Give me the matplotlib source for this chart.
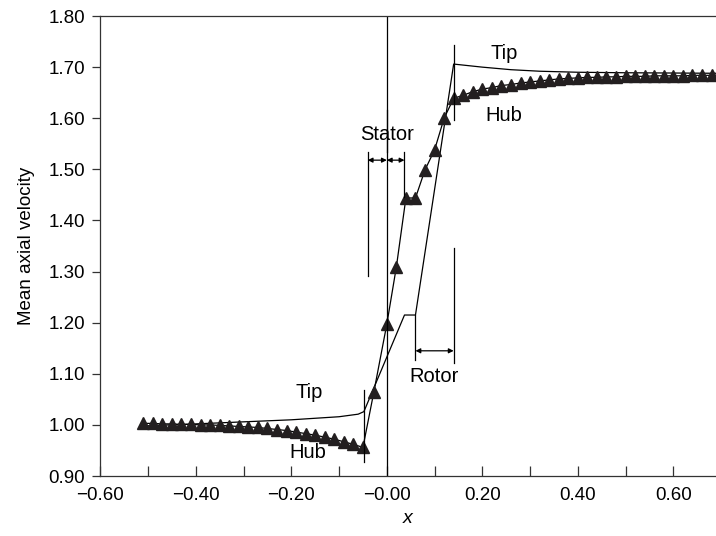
import matplotlib.pyplot as plt
from matplotlib.ticker import MultipleLocator, FuncFormatter

plt.rcParams['font.family'] = ['Liberation Sans', 'DejaVu Sans']

# hub (triangles)
hub_x = [-0.51, -0.49, -0.47, -0.45, -0.43, -0.41, -0.39, -0.37, -0.35, -0.33,
         -0.31, -0.29, -0.27, -0.25, -0.23, -0.21, -0.19, -0.17, -0.15, -0.13,
         -0.11, -0.09, -0.07, -0.05,
         -0.027, 0.0, 0.02, 0.04, 0.06, 0.08, 0.10, 0.12,
         0.14, 0.16, 0.18, 0.20, 0.22, 0.24, 0.26, 0.28, 0.30, 0.32, 0.34,
         0.36, 0.38, 0.40, 0.42, 0.44, 0.46, 0.48, 0.50, 0.52, 0.54, 0.56,
         0.58, 0.60, 0.62, 0.64, 0.66, 0.68]
hub_y = [1.003, 1.003, 1.002, 1.002, 1.001, 1.001, 1.000, 1.000, 0.999, 0.998,
         0.997, 0.996, 0.995, 0.993, 0.991, 0.989, 0.986, 0.983, 0.980, 0.976,
         0.972, 0.967, 0.962, 0.956,
         1.065, 1.197, 1.309, 1.444, 1.444, 1.499, 1.538, 1.600,
         1.639, 1.645, 1.652, 1.657, 1.660, 1.664, 1.666, 1.669, 1.671, 1.673,
         1.675, 1.677, 1.678, 1.679, 1.680, 1.680, 1.681, 1.681, 1.682, 1.682,
         1.682, 1.683, 1.683, 1.683, 1.683, 1.684, 1.684, 1.684]

# tip (plain line)
tip_x = [-0.51, -0.40, -0.30, -0.20, -0.10, -0.06, -0.048, 0.037, 0.06, 0.14,
         0.20, 0.26, 0.32, 0.40, 0.50, 0.69]
tip_y = [0.998, 1.002, 1.006, 1.010, 1.016, 1.021, 1.026, 1.215, 1.215, 1.706,
         1.700, 1.695, 1.692, 1.690, 1.689, 1.688]

fig = plt.figure(figsize=(7.16, 5.36), dpi=100)
ax = fig.add_axes([0.1401, 0.1119, 0.8599, 0.8582])

ax.plot(tip_x, tip_y, color='black', lw=0.9)
ax.plot(hub_x, hub_y, color='black', lw=0.9, marker='^', ms=9,
        markerfacecolor='#231f20', markeredgecolor='#231f20')

# blade edge markers
lc = dict(color='black', lw=0.9)
ax.plot([0.0, 0.0], [0.90, 1.616], **lc)
ax.plot([0.0, 0.0], [1.534, 1.80], **lc)
ax.plot([-0.04, -0.04], [1.291, 1.534], **lc)
ax.plot([0.037, 0.037], [1.446, 1.534], **lc)
ax.plot([-0.048, -0.048], [0.928, 1.069], **lc)
ax.plot([0.14, 0.14], [1.596, 1.743], **lc)
ax.plot([0.06, 0.06], [1.127, 1.215], **lc)
ax.plot([0.14, 0.14], [1.122, 1.347], **lc)

ap = dict(arrowstyle='<|-|>', mutation_scale=7, lw=0.9, color='black',
          shrinkA=0, shrinkB=0)
ax.annotate('', xy=(-0.04, 1.518), xytext=(0.0, 1.518), arrowprops=ap)
ax.annotate('', xy=(0.0, 1.518), xytext=(0.037, 1.518), arrowprops=ap)
ax.annotate('', xy=(0.06, 1.145), xytext=(0.14, 1.145), arrowprops=ap)

fs = 14.5
ax.text(0.0, 1.568, 'Stator', fontsize=fs, ha='center', va='center')
ax.text(0.10, 1.094, 'Rotor', fontsize=fs, ha='center', va='center')
ax.text(0.246, 1.727, 'Tip', fontsize=fs, ha='center', va='center')
ax.text(0.244, 1.605, 'Hub', fontsize=fs, ha='center', va='center')
ax.text(-0.163, 1.063, 'Tip', fontsize=fs, ha='center', va='center')
ax.text(-0.165, 0.946, 'Hub', fontsize=fs, ha='center', va='center')

ax.set_xlim(-0.60, 0.6894)
ax.set_ylim(0.90, 1.80)

ax.xaxis.set_major_locator(MultipleLocator(0.2))
ax.xaxis.set_minor_locator(MultipleLocator(0.1))
ax.yaxis.set_major_locator(MultipleLocator(0.1))


def xfmt(v, pos):
    if abs(v) < 1e-9:
        return '\u22120.00'
    return f'{v:.2f}'.replace('-', '\u2212')


ax.xaxis.set_major_formatter(FuncFormatter(xfmt))
ax.yaxis.set_major_formatter(FuncFormatter(lambda v, p: f'{v:.2f}'))

ax.tick_params(axis='x', which='both', direction='in', length=7, width=0.9,
               labelsize=13.5, pad=8, color='#333333')
ax.tick_params(axis='y', which='both', direction='out', length=6, width=0.9,
               labelsize=13.5, pad=5, color='#333333')

ax.spines['right'].set_visible(False)
for s in ['left', 'top', 'bottom']:
    ax.spines[s].set_linewidth(0.9)
    ax.spines[s].set_color('#333333')

ax.set_ylabel('Mean axial velocity', fontsize=13.5, labelpad=10)
ax.set_xlabel('x', fontsize=14, style='italic', labelpad=4)

fig.savefig('out.png', dpi=100)
